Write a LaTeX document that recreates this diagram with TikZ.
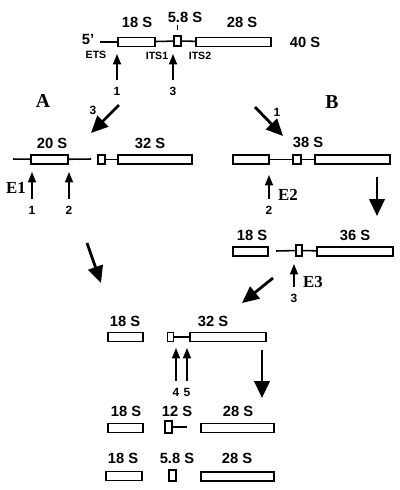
\documentclass[tikz,border=0pt]{standalone}
\usepackage{fontspec}
\setmainfont{Liberation Sans}
\newfontfamily\tagfont{Liberation Serif}
\usetikzlibrary{arrows.meta}

\begin{document}
\begin{tikzpicture}[x=0.25mm, y=-0.25mm,
  seg/.style={draw, line width=1.1pt, inner sep=0pt, minimum height=2.3mm},
  bw/.style={minimum width=#1*0.25mm},
  bh/.style={minimum height=#1*0.25mm},
  lbl/.style={font=\bfseries\fontsize{10.5}{12}\selectfont, inner sep=0pt},
  num/.style={font=\bfseries\fontsize{8.5}{10}\selectfont, inner sep=0.5pt},
  sml/.style={font=\bfseries\fontsize{7.5}{9}\selectfont, inner sep=0.5pt},
  tag/.style={font=\tagfont\bfseries\fontsize{14}{16}\selectfont, inner sep=0pt},
  etag/.style={font=\tagfont\bfseries\fontsize{12}{14}\selectfont, inner sep=0pt},
  link/.style={line width=1.1pt},
  cut/.style={-{Triangle[width=2mm,length=2.6mm]}, line width=1.1pt, shorten <=1.5mm},
  bigarr/.style={-{Triangle[width=3.8mm,length=4.2mm]}, line width=2pt}]
\useasboundingbox (0,0) rectangle (400,490);
\node[lbl] (p5) at (88,39) {5'};
\coordinate (c5) at (100,42);
\node[seg, bw=37] (r18) at (136.5,42) {};
\node[seg, bw=7, bh=10] (r58) at (177.5,41) {};
\node[seg, bw=75] (r28) at (233.5,42) {};
\draw[link] (c5) -- (r18);
\draw[link] (r18) -- (r58);
\draw[link] (r58) -- (r28);
\node[lbl] (l18) at (137,22) {18 S};
\node[lbl] (l58) at (185,17) {5.8 S};
\coordinate (tk1) at (177.5,25);
\coordinate (tk2) at (177.5,30);
\draw[line width=0.8pt] (tk1) -- (tk2);
\node[lbl] (l28) at (242,22) {28 S};
\node[lbl] (l40) at (305,42) {40 S};
\node[sml] (ets) at (96,55) {ETS};
\node[sml] (its1) at (157,56) {ITS1};
\node[sml] (its2) at (200,56) {ITS2};
\node[num] (n1) at (117,91) {1};
\coordinate (t1) at (117,54);
\draw[cut] (n1) -- (t1);
\node[num] (n3) at (173,91) {3};
\coordinate (t3) at (173,54);
\draw[cut] (n3) -- (t3);

\node[tag] (A) at (43,101) {A};
\node[tag] (B) at (332,102) {B};
\coordinate (sa1) at (119,105);
\coordinate (sa2) at (91,133);
\draw[bigarr] (sa1) -- (sa2);
\node[num] (na) at (93,110) {3};
\coordinate (sb1) at (255,107);
\coordinate (sb2) at (283,136);
\draw[bigarr] (sb1) -- (sb2);
\node[num] (nb) at (277,112) {1};

\coordinate (a0) at (13,159);
\node[seg, bw=37] (a20) at (49.5,159.5) {};
\coordinate (a1) at (91,159);
\node[seg, bw=7] (a58) at (101.5,159.5) {};
\node[seg, bw=74] (a32) at (155,159.5) {};
\draw[link] (a0) -- (a20);
\draw[link] (a20) -- (a1);
\draw[link] (a58) -- (a32);
\node[lbl] (l20) at (52,143) {20 S};
\node[lbl] (l32) at (150,143) {32 S};
\node[num] (e1n) at (32,210) {1};
\coordinate (e1t) at (32,172);
\draw[cut] (e1n) -- (e1t);
\node[etag] (E1) at (16,188) {E1};
\node[num] (e2n) at (69,210) {2};
\coordinate (e2t) at (69,172);
\draw[cut] (e2n) -- (e2t);

\node[seg, bw=36] (b18) at (251,159.5) {};
\node[seg, bw=8] (b58) at (297,159.5) {};
\node[seg, bw=75] (b28) at (352.5,159.5) {};
\draw[link] (b18) -- (b58);
\draw[link] (b58) -- (b28);
\node[lbl] (l38) at (308,142) {38 S};
\node[num] (f2n) at (269,210) {2};
\coordinate (f2t) at (269,175);
\draw[cut] (f2n) -- (f2t);
\node[etag] (E2) at (288,195) {E2};
\coordinate (sd1) at (377,177);
\coordinate (sd2) at (377,216);
\draw[bigarr] (sd1) -- (sd2);

\node[seg, bw=35] (c18) at (250.5,251.5) {};
\coordinate (c0) at (276,251);
\node[seg, bw=6, bh=11] (c58) at (299,250.5) {};
\node[seg, bw=76] (c36) at (355,251.5) {};
\draw[link] (c0) -- (c58);
\draw[link] (c58) -- (c36);
\node[lbl] (m18) at (252,235) {18 S};
\node[lbl] (m36) at (355,235) {36 S};
\node[num] (g3n) at (294,298) {3};
\coordinate (g3t) at (294,264);
\draw[cut] (g3n) -- (g3t);
\node[etag] (E3) at (313,282) {E3};
\coordinate (se1) at (273,278);
\coordinate (se2) at (242,303);
\draw[bigarr] (se1) -- (se2);
\coordinate (sf1) at (87,243);
\coordinate (sf2) at (101,283);
\draw[bigarr] (sf1) -- (sf2);

\node[seg, bw=35] (d18) at (125.5,337) {};
\node[seg, bw=6] (d58) at (170.5,337) {};
\node[seg, bw=76] (d32) at (228,337) {};
\draw[link] (d58) -- (d32);
\node[lbl] (k18) at (125,321) {18 S};
\node[lbl] (k32) at (213,321) {32 S};
\node[num] (h4n) at (176,392) {4};
\coordinate (h4t) at (176,348);
\draw[cut] (h4n) -- (h4t);
\node[num] (h5n) at (187,392) {5};
\coordinate (h5t) at (187,348);
\draw[cut] (h5n) -- (h5t);
\coordinate (sg1) at (262,350);
\coordinate (sg2) at (262,398);
\draw[bigarr] (sg1) -- (sg2);

\node[seg, bw=35] (e18) at (125.5,428) {};
\node[seg, bw=7, bh=12] (e12) at (168.5,427) {};
\coordinate (e1) at (187,427);
\node[seg, bw=73] (e28) at (237.5,428) {};
\draw[link] (e12) -- (e1);
\node[lbl] (j18) at (126,411) {18 S};
\node[lbl] (j12) at (177,411) {12 S};
\node[lbl] (j28) at (238,411) {28 S};

\node[seg, bw=36] (f18) at (124,476) {};
\node[seg, bw=7, bh=11] (f58) at (172.5,475.5) {};
\node[seg, bw=73] (f28) at (237.5,476.5) {};
\node[lbl] (i18) at (123,458) {18 S};
\node[lbl] (i58) at (177,458) {5.8 S};
\node[lbl] (i28) at (237,458) {28 S};
\end{tikzpicture}
\end{document}
